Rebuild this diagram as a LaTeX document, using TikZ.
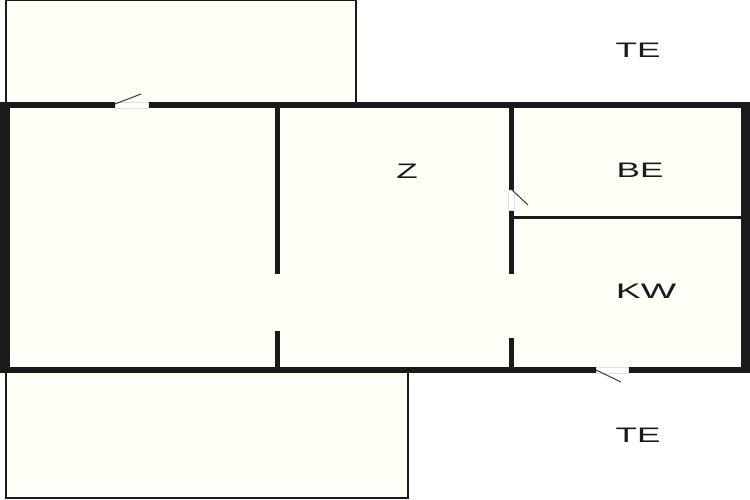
\documentclass[tikz,border=0pt]{standalone}
\usepackage{fontspec}
\setmainfont{Liberation Sans}
\definecolor{floorc}{HTML}{FFFFF8}
\definecolor{wallc}{HTML}{1A1A1A}
\tikzset{
  roomlabel/.style={font=\fontsize{21}{21}\selectfont, text=wallc, inner sep=0pt, xscale=1.67},
  wallfill/.style={fill=wallc, draw=none},
  terrace/.style={draw=wallc, line width=1.5pt, fill=floorc},
  doorgap/.style={fill=white, draw=black!12, line width=0.6pt},
  leaf/.style={draw=wallc!85, line width=1pt}
}
\begin{document}
\begin{tikzpicture}[x=1pt,y=-1pt]
\useasboundingbox (0,0) rectangle (750,500);
\fill[white] (0,0) rectangle (750,500);
% terraces
\draw[terrace] (6,0.7) rectangle (356,105);
\draw[terrace] (6,371) rectangle (408,498);
% floor
\fill[floorc] (5,105) rectangle (745,370);
% outer walls
\fill[wallfill] (0,102) rectangle (750,108);
\fill[wallfill] (0,367) rectangle (750,373);
\fill[wallfill] (0,102) rectangle (10,372);
\fill[wallfill] (741,102) rectangle (750,373);
% inner walls
\fill[wallfill] (275,108) rectangle (280,274);
\fill[wallfill] (275,331) rectangle (280,368);
\fill[wallfill] (509,108) rectangle (514,190);
\fill[wallfill] (509,210) rectangle (514,274);
\fill[wallfill] (509,338) rectangle (514,368);
\fill[wallfill] (511,215.5) rectangle (741,219);
% doors
\path[doorgap] (115,102) rectangle (148,108);
\draw[leaf] (115,104) -- (141,94);
\path[doorgap] (508.5,190) rectangle (514.5,210);
\draw[leaf] (511,189) -- (528,205);
\path[doorgap] (596,367) rectangle (628,373);
\draw[leaf] (596,370) -- (621,382);
% labels
\node[roomlabel] (te1) at (638,50) {TE};
\node[roomlabel] (z) at (407,171) {Z};
\node[roomlabel] (be) at (640,170) {BE};
\node[roomlabel, xscale=1.07] (kw) at (646,291) {KW};
\node[roomlabel] (te2) at (638,435) {TE};
\end{tikzpicture}
\end{document}
